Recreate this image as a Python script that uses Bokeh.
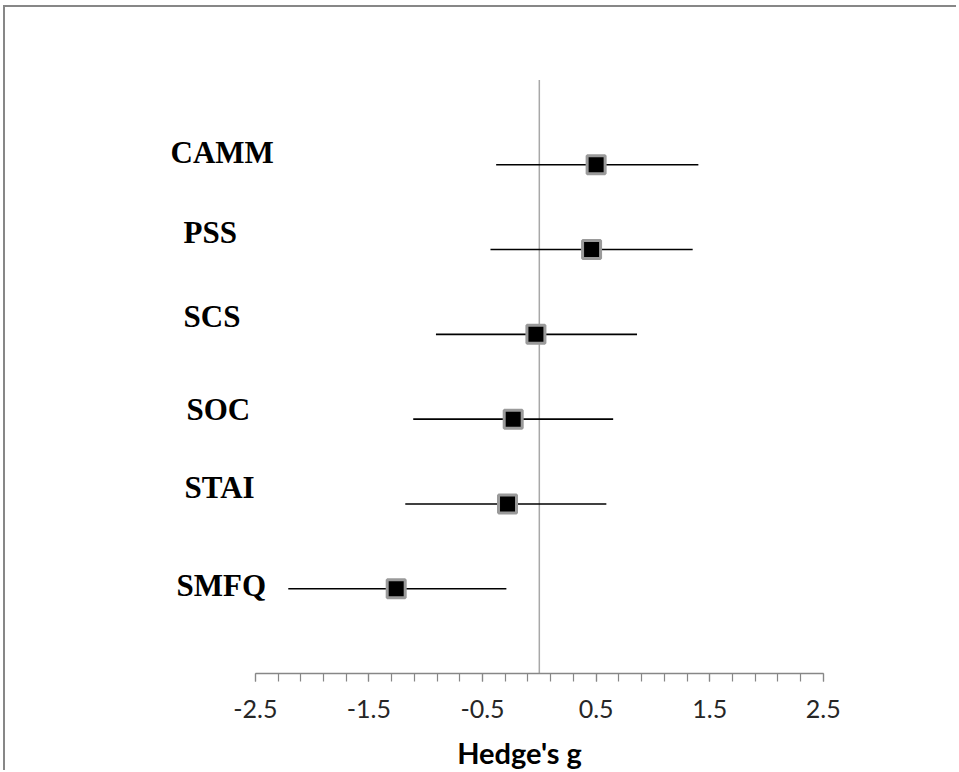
from bokeh.plotting import figure
from bokeh.models import ColumnDataSource, FixedTicker, Range1d
from bokeh.core.properties import value
from bokeh.embed import file_html
from bokeh.resources import INLINE

# ---- data ----
measures = ["CAMM", "PSS", "SCS", "SOC", "STAI", "SMFQ"]
hedges_g = [0.50, 0.46, -0.03, -0.23, -0.28, -1.26]
ci_lower = [-0.38, -0.43, -0.91, -1.11, -1.18, -2.21]
ci_upper = [1.40, 1.35, 0.86, 0.65, 0.59, -0.29]
x_major_ticks = [-2.5, -1.5, -0.5, 0.5, 1.5, 2.5]
x_tick_labels = ["-2.5", "-1.5", "-0.5", "0.5", "1.5", "2.5"]
x_minor_ticks = [-2.5, -2.3, -2.1, -1.9, -1.7, -1.5, -1.3, -1.1, -0.9, -0.7, -0.5,
                 -0.3, -0.1, 0.1, 0.3, 0.5, 0.7, 0.9, 1.1, 1.3, 1.5, 1.7, 1.9,
                 2.1, 2.3, 2.5]
x_axis_title = "Hedge's g"

# ---- layout (label placement) ----
rows = list(range(len(measures), 0, -1))
label_x = [-3.246, -3.132, -3.132, -3.106, -3.123, -3.194]
label_dy = [0.14, 0.20, 0.21, 0.11, 0.19, 0.04]
label_y = [r + d for r, d in zip(rows, label_dy)]

W, H = 953, 765
p = figure(width=W, height=H, output_backend="svg", toolbar_location=None, tools="",
           x_range=Range1d(-4.039, 3.690), y_range=Range1d(0, 7.855),
           min_border_left=75, min_border_right=0, min_border_top=0,
           min_border_bottom=95, y_axis_location=None)
p.styles = {"border-top": "2px solid #878787", "border-left": "2px solid #878787",
            "margin-left": "3px", "margin-top": "5px"}
p.outline_line_color = None
p.grid.visible = False
p.background_fill_color = "white"
p.border_fill_color = "white"

# zero reference line
p.segment(x0=[0], y0=[0], x1=[0], y1=[7], line_color="#a8a8a8", line_width=1.5)

src = ColumnDataSource(dict(m=measures, g=hedges_g, lo=ci_lower, hi=ci_upper, y=rows))
p.segment(x0="lo", y0="y", x1="hi", y1="y", source=src, line_color="black", line_width=1.6)
p.scatter(x="g", y="y", source=src, marker="square", size=18,
          fill_color="black", line_color="#9a9a9a", line_width=3)

lsrc = ColumnDataSource(dict(x=label_x, y=label_y, t=measures))
p.text(x="x", y="y", text="t", source=lsrc, text_font=value("Liberation Serif"),
       text_font_style="bold", text_font_size="31px", text_baseline="middle",
       text_align="left", text_color="black")

ax = p.xaxis[0]
ax.bounds = (-2.5, 2.5)
ax.ticker = FixedTicker(ticks=x_major_ticks, minor_ticks=x_minor_ticks)
ax.major_label_overrides = {t: l for t, l in zip(x_major_ticks, x_tick_labels)}
ax.major_tick_in = 0
ax.major_tick_out = 8
ax.minor_tick_in = 0
ax.minor_tick_out = 8
ax.axis_line_color = "#878787"
ax.axis_line_width = 1.5
ax.major_tick_line_color = "#878787"
ax.minor_tick_line_color = "#878787"
ax.major_tick_line_width = 1.2
ax.minor_tick_line_width = 1.2
ax.major_label_standoff = 18
ax.major_label_text_font = "Lato"
ax.major_label_text_font_size = "25px"
ax.major_label_text_color = "#262626"
ax.axis_label = x_axis_title
ax.axis_label_standoff = 14
ax.axis_label_text_font = "Lato"
ax.axis_label_text_font_style = "bold"
ax.axis_label_text_font_size = "29px"
ax.axis_label_text_color = "black"

open("out.html", "w").write(file_html(p, INLINE))
